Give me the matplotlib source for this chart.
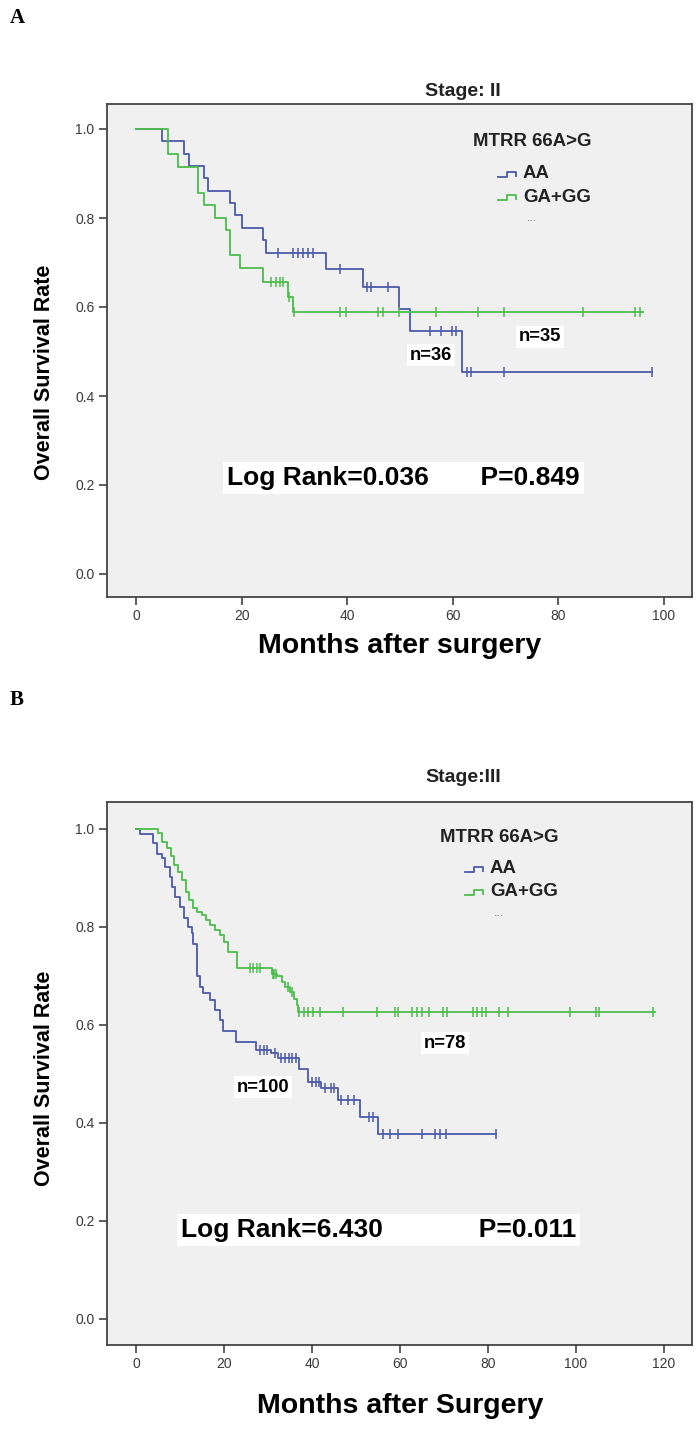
import numpy as np
import matplotlib
matplotlib.use("Agg")
import matplotlib.pyplot as plt
from matplotlib.lines import Line2D

plt.rcParams['font.family'] = ['Liberation Sans', 'DejaVu Sans']

W, H = 700, 1432

# ---- Panel A : Stage II ----
a_aa_t = [5.0, 9.0, 10.0, 12.9, 13.7, 17.8, 18.75, 20.0, 24.1, 24.7, 35.9, 42.9, 49.9, 51.9, 61.7]
a_aa_s = [0.972, 0.944, 0.917, 0.889, 0.861, 0.833, 0.806, 0.778, 0.750, 0.722, 0.685, 0.644, 0.595, 0.547, 0.455]
a_aa_end = 97.7
a_aa_cens = [26.8, 29.8, 30.7, 31.7, 32.6, 33.6, 38.6, 43.7, 44.6, 47.8, 55.7, 57.8, 59.8, 60.7,
             62.6, 63.4, 69.7, 97.7]

a_gg_t = [6.0, 8.0, 11.8, 12.9, 15.0, 17.0, 17.8, 19.7, 24.1, 28.8, 29.8]
a_gg_s = [0.943, 0.915, 0.857, 0.829, 0.801, 0.773, 0.717, 0.687, 0.657, 0.623, 0.588]
a_gg_end = 96.0
a_gg_cens = [25.5, 26.5, 27.3, 27.9, 29.0, 29.9, 38.6, 39.8, 45.9, 46.8, 49.8, 56.8, 64.7, 69.7,
             84.7, 94.5, 95.5]

# ---- Panel B : Stage III ----
b_aa_t = [0.9, 3.9, 4.7, 5.9, 6.6, 7.7, 8.1, 8.9, 10.0, 10.8, 11.9, 12.7, 13.0, 13.8, 14.5, 15.3,
          16.8, 17.95, 19.1, 19.8, 22.8, 27.2, 30.7, 32.2, 37.1, 39.0, 42.1, 45.8, 50.8, 54.9]
b_aa_s = [0.990, 0.971, 0.950, 0.940, 0.923, 0.903, 0.882, 0.862, 0.841, 0.818, 0.801, 0.787,
          0.766, 0.699, 0.678, 0.665, 0.651, 0.631, 0.610, 0.588, 0.566, 0.549, 0.543, 0.533,
          0.511, 0.484, 0.471, 0.447, 0.413, 0.377]
b_aa_end = 81.9
b_aa_cens = [28.1, 29.0, 29.8, 31.6, 32.9, 33.8, 34.7, 35.5, 36.4, 39.9, 40.8, 41.6, 43.0, 44.3,
             45.1, 46.5, 48.2, 49.5, 53.0, 53.9, 56.1, 57.8, 59.6, 65.1, 67.9, 69.2, 70.5, 81.9]

b_gg_t = [5.1, 5.8, 7.0, 7.95, 8.6, 9.6, 10.4, 11.4, 12.1, 13.0, 13.9, 14.9, 15.9, 16.8, 17.95,
          19.1, 20.0, 21.0, 22.9, 30.8, 32.0, 33.1, 33.9, 35.0, 35.8, 36.5, 36.9]
b_gg_s = [0.991, 0.974, 0.961, 0.944, 0.927, 0.913, 0.896, 0.872, 0.855, 0.838, 0.831, 0.824,
          0.814, 0.804, 0.794, 0.784, 0.770, 0.750, 0.716, 0.705, 0.699, 0.688, 0.678, 0.668,
          0.654, 0.641, 0.627]
b_gg_end = 118.0
b_gg_cens = [25.9, 26.7, 27.4, 28.2, 31.1, 31.4, 31.8, 34.6, 35.4, 37.1, 38.2, 39.2, 40.3, 41.8,
             47.0, 54.8, 58.9, 59.6, 62.7, 63.8, 64.9, 66.7, 69.7, 70.6, 76.7, 77.6, 78.6, 79.5,
             82.6, 84.5, 98.6, 104.5, 105.3, 117.6]

blue = '#4b5aa8'
green = '#4cbc4c'
bg = '#f0f0f0'


def fx(x):
    return x / W


def fy(y):
    return 1 - y / H


def km(ax, t, s, end, cens, color):
    tt = np.r_[0, t, end]
    ss = np.r_[1.0, s, s[-1]]
    ax.step(tt, ss, where='post', color=color, lw=1.3, zorder=3)
    cens = np.array(cens)
    idx = np.searchsorted(tt, cens, side='right') - 1
    ax.plot(cens, ss[idx], ls='none', marker='|', ms=7, mew=1.1, color=color, zorder=4)


def legend_icon(fig, x0, y, color):
    # little step glyph like the SPSS legend
    xs = [x0, x0 + 9, x0 + 9, x0 + 18, x0 + 18]
    ys = [y + 2, y + 2, y - 3, y - 3, y + 1]
    fig.add_artist(Line2D([fx(v) for v in xs], [fy(v) for v in ys], color=color, lw=1.3,
                          transform=fig.transFigure))


def panel(fig, top, bottom, xticks, x0px, xspan, y0px, yspan,
          curves, stage, stage_y, xlab, xlab_y, ylab_y, logrank, lr_pos, nlabels, leg_y):
    ax = fig.add_axes([fx(107), fy(bottom), fx(692 - 107), (bottom - top) / H])
    ax.set_facecolor(bg)
    for t, s, end, cens, col in curves:
        km(ax, t, s, end, cens, col)
    # axis limits derived from pixel calibration
    ax.set_xlim((107 - x0px) / xspan, (692 - x0px) / xspan)
    ax.set_ylim((y0px - bottom) / yspan, (y0px - top) / yspan)
    ax.set_xticks(xticks)
    ax.set_xticklabels([str(v) for v in xticks])
    ax.set_yticks([0, 0.2, 0.4, 0.6, 0.8, 1.0])
    ax.set_yticklabels(['0.0', '0.2', '0.4', '0.6', '0.8', '1.0'])
    ax.tick_params(direction='out', length=6, width=1.1, color='#333333',
                   labelsize=10, labelcolor='#3a3a3a', pad=3)
    for sp in ax.spines.values():
        sp.set_color('#444444')
        sp.set_linewidth(1.3)

    fig.text(fx(463), fy(stage_y), stage, ha='center', va='center', fontsize=14,
             fontweight='bold', color='#222222')
    fig.text(fx(400), fy(xlab_y), xlab, ha='center', va='center', fontsize=20.5,
             fontweight='bold')
    fig.text(fx(45), fy(ylab_y), 'Overall Survival Rate', ha='center', va='center',
             rotation=90, fontsize=15.5, fontweight='bold')

    ax.text(lr_pos[0], lr_pos[1], logrank, ha='center', va='center', fontsize=19,
            fontweight='bold', bbox=dict(facecolor='white', edgecolor='none', pad=3),
            zorder=5)
    for lab, xx, yy in nlabels:
        ax.text(xx, yy, lab, ha='center', va='center', fontsize=13.2, fontweight='bold',
                bbox=dict(facecolor='white', edgecolor='none', pad=2), zorder=5)

    lx, ly = leg_y
    fig.text(fx(lx), fy(ly), 'MTRR 66A>G', ha='center', va='center', fontsize=13.4,
             fontweight='bold', color='#222222')
    legend_icon(fig, lx - 34, ly + 33, blue)
    fig.text(fx(lx - 9), fy(ly + 32), 'AA', ha='left', va='center', fontsize=13.4,
             fontweight='bold', color='#222222')
    legend_icon(fig, lx - 34, ly + 56, green)
    fig.text(fx(lx - 9), fy(ly + 55), 'GA+GG', ha='left', va='center', fontsize=13.4,
             fontweight='bold', color='#222222')
    fig.text(fx(lx), fy(ly + 76), '...', ha='center', va='center', fontsize=9,
             color='#777777')
    return ax


fig = plt.figure(figsize=(W / 100, H / 100), dpi=100)

fig.text(fx(10), fy(18), 'A', ha='left', va='center', fontsize=15, fontweight='bold',
         family=['Liberation Serif', 'DejaVu Serif'])
fig.text(fx(10), fy(700), 'B', ha='left', va='center', fontsize=15, fontweight='bold',
         family=['Liberation Serif', 'DejaVu Serif'])

panel(fig, 104, 597, [0, 20, 40, 60, 80, 100], 136, 5.28, 574, 445,
      [(a_aa_t, a_aa_s, a_aa_end, a_aa_cens, blue),
       (a_gg_t, a_gg_s, a_gg_end, a_gg_cens, green)],
      'Stage: II', 92, 'Months after surgery', 646, 372,
      'Log Rank=0.036       P=0.849', (50.6, 0.216),
      [('n=36', 55.9, 0.492), ('n=35', 76.5, 0.533)], (532, 142))

panel(fig, 802, 1344.5, [0, 20, 40, 60, 80, 100, 120], 136, 4.4, 1319, 490,
      [(b_aa_t, b_aa_s, b_aa_end, b_aa_cens, blue),
       (b_gg_t, b_gg_s, b_gg_end, b_gg_cens, green)],
      'Stage:III', 777, 'Months after Surgery', 1406, 1078,
      'Log Rank=6.430             P=0.011', (55.1, 0.182),
      [('n=100', 28.9, 0.473), ('n=78', 70.2, 0.563)], (499, 837))

fig.savefig('out.png', dpi=100)
